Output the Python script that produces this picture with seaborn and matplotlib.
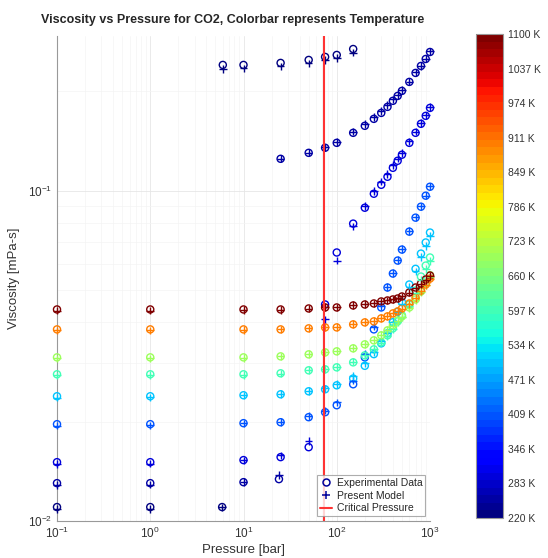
import numpy as np
import pandas as pd
import matplotlib
matplotlib.use("Agg")
import matplotlib.pyplot as plt
import seaborn as sns
from matplotlib.lines import Line2D
from matplotlib.colors import Normalize
from matplotlib.cm import ScalarMappable

# isotherm temperatures [K]
temps = [220, 260, 300, 400, 500, 600, 700, 900, 1100]

# pressures [bar]
p_220 = [0.1, 1, 5.9, 6, 10, 25, 50, 75, 100, 150]
p_260 = [0.1, 1, 10, 24, 25, 50, 75, 100, 150, 200, 250, 300, 350, 400, 450,
         500, 600, 700, 800, 900, 1000]
p_hot = [0.1, 1, 10, 25, 50, 75, 100, 150, 200, 250, 300, 350, 400, 450, 500,
         600, 700, 800, 900, 1000]

# experimental viscosity [mPa-s]
exp_220 = [0.01102, 0.01102, 0.01102, 0.2403, 0.2403, 0.2437, 0.2488, 0.2541, 0.2576, 0.2685]
exp_260 = [0.01302, 0.01302, 0.01311, 0.01339, 0.1249, 0.1302, 0.1349, 0.1396, 0.1497, 0.1572,
           0.1650, 0.1720, 0.1794, 0.1871, 0.1936, 0.2005, 0.2135, 0.2273, 0.2386, 0.2505, 0.2630]
exp_300 = [0.01507, 0.01507, 0.01529, 0.01561, 0.01673, 0.04524, 0.0650, 0.0795, 0.0888, 0.0979,
           0.1042, 0.1102, 0.1173, 0.1232, 0.1285, 0.1396, 0.1497, 0.1594, 0.1685, 0.1781]
exp_400 = [0.01964, 0.01964, 0.01978, 0.01991, 0.02062, 0.02135, 0.02241, 0.02594, 0.03129, 0.03803,
           0.04431, 0.05092, 0.05613, 0.06144, 0.06634, 0.07518, 0.08287, 0.08945, 0.09658, 0.1028]
exp_500 = [0.02386, 0.02386, 0.02403, 0.02419, 0.02470, 0.02505, 0.02575, 0.0270, 0.0295, 0.0320,
           0.0345, 0.0370, 0.0400, 0.0430, 0.0460, 0.0520, 0.0580, 0.0645, 0.0697, 0.0747]
exp_600 = [0.02781, 0.02781, 0.02781, 0.02800, 0.02859, 0.02879, 0.02919, 0.03022, 0.03173, 0.03309,
           0.03474, 0.03648, 0.03830, 0.04021, 0.04193, 0.04524, 0.04987, 0.05497, 0.05934, 0.06277]
exp_700 = [0.03129, 0.03129, 0.03129, 0.03151, 0.03195, 0.03240, 0.03263, 0.03332, 0.03426, 0.03523,
           0.03648, 0.03776, 0.03910, 0.04049, 0.04164, 0.04431, 0.04685, 0.04953, 0.05250, 0.05550]
exp_900 = [0.03803, 0.03803, 0.03803, 0.03803, 0.03830, 0.03856, 0.03856, 0.03938, 0.03993, 0.04021,
           0.04106, 0.04164, 0.04251, 0.04311, 0.04400, 0.04556, 0.04750, 0.04987, 0.05200, 0.05421]
exp_1100 = [0.04370, 0.04370, 0.04370, 0.04370, 0.04400, 0.04431, 0.04431, 0.04493, 0.04524, 0.04556,
            0.04620, 0.04652, 0.04685, 0.04717, 0.04783, 0.04918, 0.05092, 0.05236, 0.05383, 0.05535]

# present model viscosity [mPa-s]
mod_220 = [0.01088, 0.01088, 0.01100, 0.2340, 0.2345, 0.2380, 0.2430, 0.2490, 0.2520, 0.2620]
mod_260 = [0.01285, 0.01288, 0.01310, 0.01377, 0.1250, 0.1305, 0.1352, 0.1405, 0.1510, 0.1595,
           0.1675, 0.1745, 0.1815, 0.1890, 0.1950, 0.2015, 0.2140, 0.2280, 0.2390, 0.2510, 0.2640]
mod_300 = [0.01490, 0.01492, 0.01525, 0.01580, 0.01745, 0.04077, 0.06144, 0.0780, 0.0900, 0.1000,
           0.1065, 0.1125, 0.1195, 0.1250, 0.1300, 0.1410, 0.1510, 0.1600, 0.1690, 0.1790]
mod_400 = [0.01945, 0.01948, 0.01975, 0.01995, 0.02075, 0.02160, 0.02285, 0.02660, 0.03200, 0.03880,
           0.04480, 0.05120, 0.05640, 0.06170, 0.06660, 0.07540, 0.08300, 0.08960, 0.09670, 0.1030]
mod_500 = [0.02365, 0.02368, 0.02400, 0.02425, 0.02480, 0.02520, 0.02600, 0.0275, 0.0300, 0.0325,
           0.0350, 0.0372, 0.0400, 0.0428, 0.0455, 0.0512, 0.0570, 0.0630, 0.0680, 0.0730]
mod_600 = [0.02760, 0.02762, 0.02770, 0.02795, 0.02860, 0.02885, 0.02930, 0.03040, 0.03185, 0.03315,
           0.03470, 0.03635, 0.03810, 0.03990, 0.04150, 0.04470, 0.04900, 0.05380, 0.05790, 0.06120]
mod_700 = [0.03105, 0.03108, 0.03120, 0.03150, 0.03200, 0.03245, 0.03275, 0.03345, 0.03440, 0.03535,
           0.03655, 0.03780, 0.03905, 0.04040, 0.04150, 0.04410, 0.04660, 0.04920, 0.05180, 0.05480]
mod_900 = [0.03775, 0.03778, 0.03790, 0.03800, 0.03830, 0.03860, 0.03865, 0.03950, 0.04005, 0.04035,
           0.04115, 0.04170, 0.04255, 0.04310, 0.04395, 0.04545, 0.04735, 0.04965, 0.05175, 0.05390]
mod_1100 = [0.04335, 0.04338, 0.04350, 0.04360, 0.04395, 0.04440, 0.04430, 0.04500, 0.04530, 0.04560,
            0.04625, 0.04655, 0.04690, 0.04720, 0.04785, 0.04915, 0.05085, 0.05225, 0.05370, 0.05515]

p_crit = 73.8  # bar

cbar_ticks = np.linspace(220, 1100, 15)
cbar_labels = ['220 K', '283 K', '346 K', '409 K', '471 K', '534 K', '597 K', '660 K',
               '723 K', '786 K', '849 K', '911 K', '974 K', '1037 K', '1100 K']

pressures = [p_220, p_260] + [p_hot] * 7
exps = [exp_220, exp_260, exp_300, exp_400, exp_500, exp_600, exp_700, exp_900, exp_1100]
mods = [mod_220, mod_260, mod_300, mod_400, mod_500, mod_600, mod_700, mod_900, mod_1100]

df = pd.concat([
    pd.DataFrame({'T': t, 'pressure': p, 'mu_exp': e, 'mu_model': m})
    for t, p, e, m in zip(temps, pressures, exps, mods)
], ignore_index=True)

sns.set_style("white")
plt.rcParams['font.family'] = ['Liberation Sans', 'DejaVu Sans']

W, H = 548, 558
fig = plt.figure(figsize=(W / 100, H / 100), dpi=100)
ax = fig.add_axes([57 / W, 1 - 521 / H, (430 - 57) / W, (521 - 36) / H])
cax = fig.add_axes([476 / W, 1 - 518 / H, 27 / W, (518 - 34) / H])

cmap = plt.get_cmap('jet', 64)
norm = Normalize(220, 1100)

ax.set_xscale('log')
ax.set_yscale('log')

sns.scatterplot(data=df, x='pressure', y='mu_exp', hue='T', palette=cmap, hue_norm=norm,
                marker='o', s=26, linewidth=1.0, legend=False, ax=ax, zorder=3)
circles = ax.collections[-1]
fc = circles.get_facecolors()
circles.set_edgecolors(fc)
circles.set_facecolors('none')
circles.set_clip_on(False)

sns.scatterplot(data=df, x='pressure', y='mu_model', hue='T', palette=cmap, hue_norm=norm,
                marker='+', s=30, linewidth=1.0, legend=False, ax=ax, zorder=4)
plus = ax.collections[-1]
plus.set_edgecolors(plus.get_facecolors())
plus.set_clip_on(False)

ax.axvline(p_crit, color=(1, 0.2, 0.2), lw=1.5, zorder=5)

ax.set_xlim(0.1, 1000)
ax.set_ylim(0.01, 0.294)

ax.grid(which='major', color='0.9', lw=0.6)
ax.grid(which='minor', color='0.955', lw=0.5)
ax.set_axisbelow(True)
for s in ['top', 'right']:
    ax.spines[s].set_visible(False)
for s in ['left', 'bottom']:
    ax.spines[s].set_color('0.6')
    ax.spines[s].set_linewidth(0.8)
ax.tick_params(which='both', direction='in', colors='0.6', labelcolor='0.2', labelsize=8.5)
ax.tick_params(which='major', length=4)
ax.tick_params(which='minor', length=2)

ax.set_xlabel('Pressure [bar]', fontsize=9.5, color='0.2', labelpad=2)
ax.set_ylabel('Viscosity [mPa-s]', fontsize=9.5, color='0.2', labelpad=6)
ax.set_title('Viscosity vs Pressure for CO2, Colorbar represents Temperature',
             fontsize=9, fontweight='bold', pad=9, x=0.47)

navy = (0, 0, 0.6)
handles = [
    Line2D([], [], marker='o', mfc='none', mec=navy, mew=1.1, ms=5, ls='none'),
    Line2D([], [], marker='+', color=navy, mew=1.1, ms=5.5, ls='none'),
    Line2D([], [], color=(1, 0.2, 0.2), lw=1.5),
]
leg = ax.legend(handles, ['Experimental Data', 'Present Model', 'Critical Pressure'],
                loc='lower right', fontsize=7.5, frameon=True, fancybox=False,
                handlelength=1.2, handletextpad=0.4, borderpad=0.3, labelspacing=0.25,
                borderaxespad=0.45)
leg.get_frame().set_edgecolor('0.6')
leg.get_frame().set_linewidth(0.8)
leg.set_zorder(10)

cb = fig.colorbar(ScalarMappable(norm=norm, cmap=cmap), cax=cax, ticks=cbar_ticks)
cb.ax.set_yticklabels(cbar_labels)
cb.ax.tick_params(direction='in', length=3, colors='0.6', labelcolor='0.2', labelsize=7.5)
cb.outline.set_edgecolor('0.6')
cb.outline.set_linewidth(0.8)

fig.savefig('out.png', dpi=100)
